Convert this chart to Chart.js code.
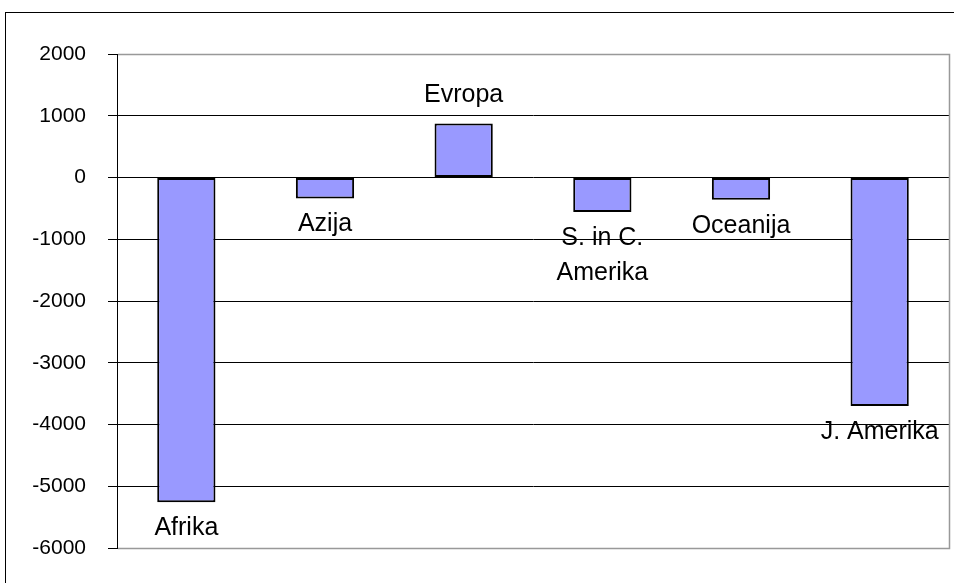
<!DOCTYPE html>
<html>
<head>
<meta charset="utf-8">
<script src="https://cdn.jsdelivr.net/npm/chart.js@4"></script>
<style>
    html, body { margin: 0; padding: 0; background: #ffffff; overflow: hidden; }
    canvas { display: block; }
</style>
</head>
<body>
<canvas id="chart" width="954" height="583"></canvas>
<script>
const categories = ['Afrika', 'Azija', 'Evropa', ['S. in C.', 'Amerika'], 'Oceanija', 'J. Amerika'];
const values = [-5260, -340, 875, -560, -360, -3700];
const yMin = -6000;
const yMax = 2000;
const yStep = 1000;

const fontFamily = '"Liberation Sans", Arial, sans-serif';

// outer frame + gray plot border
const framePlugin = {
    id: 'frame',
    beforeDraw: (chart) => {
        const ctx = chart.ctx;
        ctx.save();
        ctx.fillStyle = '#ffffff';
        ctx.fillRect(0, 0, chart.width, chart.height);
        ctx.strokeStyle = '#000000';
        ctx.lineWidth = 1;
        ctx.strokeRect(5.5, 12.5, 1200, 1200);
        ctx.restore();
    },
    afterDraw: (chart) => {
        const a = chart.chartArea;
        const ctx = chart.ctx;
        ctx.save();
        ctx.strokeStyle = '#999999';
        ctx.lineWidth = 1.5;
        ctx.beginPath();
        ctx.moveTo(a.left + 1, Math.round(a.top) + 0.5);
        ctx.lineTo(Math.round(a.right) + 0.5, Math.round(a.top) + 0.5);
        ctx.lineTo(Math.round(a.right) + 0.5, Math.round(a.bottom) + 0.5);
        ctx.lineTo(a.left + 1, Math.round(a.bottom) + 0.5);
        ctx.stroke();
        ctx.restore();
    }
};

// category names next to bar ends
const barLabels = {
    id: 'barLabels',
    afterDatasetsDraw: (chart) => {
        const ctx = chart.ctx;
        const bars = chart.getDatasetMeta(0).data;
        ctx.save();
        ctx.fillStyle = '#000000';
        ctx.font = '25px ' + fontFamily;
        ctx.textAlign = 'center';
        ctx.textBaseline = 'alphabetic';
        bars.forEach((bar, i) => {
            const lines = Array.isArray(categories[i]) ? categories[i] : [categories[i]];
            if (values[i] < 0) {
                lines.forEach((line, j) => {
                    ctx.fillText(line, bar.x, bar.y + 33 + j * 35);
                });
            } else {
                lines.slice().reverse().forEach((line, j) => {
                    ctx.fillText(line, bar.x, bar.y - 21 - j * 35);
                });
            }
        });
        ctx.restore();
    }
};

new Chart(document.getElementById('chart'), {
    type: 'bar',
    data: {
        labels: categories,
        datasets: [{
            data: values,
            backgroundColor: '#9999ff',
            borderColor: '#000000',
            borderWidth: 2,
            borderSkipped: false,
            barPercentage: 0.42,
            categoryPercentage: 1.0
        }]
    },
    options: {
        responsive: false,
        animation: false,
        layout: {
            padding: { left: 0, top: 54, right: 5, bottom: 35 }
        },
        plugins: {
            legend: { display: false },
            tooltip: { enabled: false }
        },
        scales: {
            x: {
                display: false
            },
            y: {
                min: yMin,
                max: yMax,
                afterFit: (scale) => { scale.width = 117; },
                ticks: {
                    stepSize: yStep,
                    color: '#000000',
                    padding: 22,
                    font: { size: 21, family: fontFamily },
                    callback: (value) => String(value)
                },
                grid: {
                    color: (c) => (c.tick && (c.tick.value === yMax || c.tick.value === yMin)) ? '#999999' : '#000000',
                    tickColor: '#000000',
                    tickLength: 9,
                    lineWidth: 1
                },
                border: {
                    color: '#000000',
                    width: 1
                }
            }
        }
    },
    plugins: [framePlugin, barLabels]
});
</script>
</body>
</html>
